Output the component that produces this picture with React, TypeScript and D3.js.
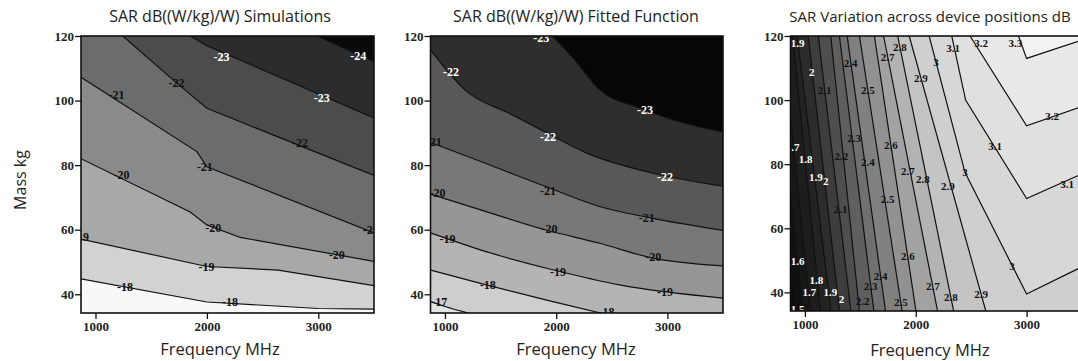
import * as d3 from "d3";
import { useEffect, useRef } from "react";

const W = 1078, H = 361;
const F0 = 870, F1 = 3500, M0 = 34.2, M1 = 120;

const massTicks = [40, 60, 80, 100, 120];
const freqTicks = [1000, 2000, 3000];

// panel 1: simulations, contour lines as [MHz, kg]
const simLevels = [-18, -19, -20, -21, -22, -23, -24];
const simLines = [
  [[870, 44.8], [2000, 37.6], [3000, 35.6], [3500, 35.4]],
  [[870, 57.1], [2000, 48.6], [2640, 47.5], [3500, 42.7]],
  [[870, 82], [1850, 65.5], [2000, 61.5], [2300, 57.6], [3500, 50.2]],
  [[870, 107.2], [1910, 84.2], [2000, 79.5], [3500, 59]],
  [[1245, 120], [1730, 105.4], [2000, 97.6], [3500, 76.8]],
  [[1850, 120], [2000, 117], [3500, 94.6]],
  [[2990, 120], [3500, 112]],
];
const simLabels = [
  [1264, 42.4, -18], [2207, 37.7, -18],
  [870, 57.9, -19], [1997, 48.6, -19],
  [1234, 77, -20], [2057, 60.5, -20], [3165, 52.2, -20],
  [1189, 101.7, -21], [1982, 79.5, -21], [3470, 60, -21],
  [1728, 105.4, -22], [2836, 86.8, -22],
  [2132, 113.6, -23], [3031, 101, -23],
  [3359, 114, -24],
];

// panel 2: fitted function
const fitLevels = [-17, -18, -19, -20, -21, -22, -23];
const fitLines = [
  [[870, 37.8], [1000, 36.2], [1210, 34.2]],
  [[870, 47.5], [1370, 42.9], [1970, 37.7], [2400, 34.2]],
  [[870, 59], [1370, 53.2], [1970, 47.6], [2570, 42.9], [3500, 38.8]],
  [[870, 71], [1370, 65.6], [1910, 59.9], [2390, 55.8], [2870, 51.2], [3500, 48.8]],
  [[870, 87], [1370, 80.5], [1910, 73.3], [2390, 67.2], [2870, 63.5], [3500, 59.8]],
  [[870, 115.7], [1190, 103], [1580, 96], [1900, 90.3], [2270, 83.8], [2870, 77.5], [3500, 73.5]],
  [[1968, 120], [2167, 112.6], [2393, 103.3], [2754, 97.7], [3115, 93.4], [3500, 90.3]],
];
const fitLabels = [
  [949, 37.7, -17],
  [1384, 42.9, -18], [2453, 34.6, -18],
  [1023, 57.3, -19], [2016, 47, -19], [2979, 40.8, -19],
  [933, 71.4, -20], [1941, 60.2, -20], [2874, 51.7, -20],
  [900, 87.3, -21], [1926, 72.2, -21], [2814, 63.6, -21],
  [1054, 109, -22], [1926, 88.8, -22], [2979, 76.4, -22],
  [1866, 119.3, -23], [2799, 97, -23],
];

// panel 3: variation across device positions
const varLevels = [1.5, 1.6, 1.7, 1.8, 1.9, 2, 2.1, 2.2, 2.3, 2.4, 2.5, 2.6, 2.7, 2.8, 2.9, 3, 3.1, 3.2, 3.3];
const varLines = [
  [[870, 49], [915, 34.2]],
  [[870, 71], [981, 34.2]],
  [[870, 94.7], [1051, 34.2]],
  [[889, 120], [1140, 34.2]],
  [[930, 120], [1235, 34.2]],
  [[1030, 120], [1312, 34.2]],
  [[1121, 120], [1415, 34.2]],
  [[1233, 120], [1492, 34.2]],
  [[1311, 120], [1622, 34.2]],
  [[1381, 120], [1727, 34.2]],
  [[1492, 120], [1877, 34.2]],
  [[1627, 120], [2002, 34.2]],
  [[1710, 120], [2197, 34.2]],
  [[1837, 120], [2342, 34.2]],
  [[1941, 120], [2632, 34.2]],
  [[2121, 120], [2445, 77.4], [3000, 39.5], [3500, 48]],
  [[2325, 120], [2450, 100], [3000, 69.3], [3500, 77]],
  [[2490, 120], [3000, 92], [3500, 98]],
  [[2927, 120], [3000, 113], [3500, 118.7]],
];
const varLabels = [
  [934, 117.8, 1.9], [1061, 108.8, 2], [1178, 103.2, 2.1], [1413, 111.6, 2.4], [1567, 103.2, 2.5],
  [1747, 113.5, 2.7], [1857, 116.6, 2.8], [2047, 106.9, 2.9], [2183, 111.9, 3], [2337, 116.3, 3.1],
  [2590, 117.8, 3.2], [2898, 117.8, 3.3],
  [890, 85.2, 1.7], [1006, 81.5, 1.8], [1100, 75.9, 1.9], [1187, 74.7, 2], [1323, 66, 2.1],
  [1330, 82.5, 2.2], [1445, 88, 2.3], [1567, 80.6, 2.4], [1747, 69.1, 2.5], [1775, 86.1, 2.6],
  [1929, 77.8, 2.7], [2064, 75.3, 2.8], [2290, 73.1, 2.9], [2445, 77.4, 3], [2717, 85.5, 3.1],
  [3230, 94.9, 3.2], [3366, 73.7, 3.1], [2868, 48.3, 3],
  [1929, 51.3, 2.6], [934, 49.8, 1.6],
  [1103, 43.7, 1.8], [1040, 40.2, 1.7], [1230, 40.2, 1.9], [1330, 37.8, 2], [1395, 33.5, 2.1],
  [1520, 37.4, 2.2], [1594, 42, 2.3], [1684, 45.1, 2.4], [1865, 37, 2.5], [2155, 42, 2.7],
  [2318, 38.6, 2.8], [2590, 39.5, 2.9], [934, 34.8, 1.5],
];

// which side of the frame a point sits on: 0 bottom, 1 right, 2 top, 3 left
function edgeOf([f, m]) {
  const d = [
    Math.abs(m - M0) / (M1 - M0),
    Math.abs(F1 - f) / (F1 - F0),
    Math.abs(M1 - m) / (M1 - M0),
    Math.abs(f - F0) / (F1 - F0),
  ];
  return d.indexOf(Math.min(...d));
}
function snap(p) {
  const e = edgeOf(p);
  if (e === 0) return [p[0], M0];
  if (e === 1) return [F1, p[1]];
  if (e === 2) return [p[0], M1];
  return [F0, p[1]];
}
function perim(p) {
  const e = edgeOf(p);
  if (e === 0) return (p[0] - F0) / (F1 - F0);
  if (e === 1) return 1 + (p[1] - M0) / (M1 - M0);
  if (e === 2) return 2 + (F1 - p[0]) / (F1 - F0);
  return 3 + (M1 - p[1]) / (M1 - M0);
}
const corners = [[F0, M0], [F1, M0], [F1, M1], [F0, M1]];

function styleAxis(g) {
  g.select(".domain").remove();
  g.selectAll("line").attr("stroke", "#111").attr("stroke-width", 1.3);
  g.selectAll("text").attr("font-family", "Liberation Serif").attr("font-size", 13).attr("font-weight", "bold").attr("fill", "#222");
}

function YAxis({ y, x0 }) {
  const ref = useRef(null);
  useEffect(() => {
    const g = d3.select(ref.current);
    g.selectAll("*").remove();
    g.call(d3.axisLeft(y).tickValues(massTicks).tickFormat(d3.format("d")).tickSize(6).tickPadding(1));
    styleAxis(g);
  });
  return <g ref={ref} transform={`translate(${x0},0)`} />;
}
function XAxis({ x, y1 }) {
  const ref = useRef(null);
  useEffect(() => {
    const g = d3.select(ref.current);
    g.selectAll("*").remove();
    g.call(d3.axisBottom(x).tickValues(freqTicks).tickFormat(d3.format("d")).tickSize(6).tickPadding(3));
    styleAxis(g);
  });
  return <g ref={ref} transform={`translate(0,${y1})`} />;
}

function Panel({ id, x0, x1, y0, y1, title, titleX, titleSize, levels, lines, labels, grays, curve, whiteLabel, labelSize, xLabelY }) {
  const x = d3.scaleLinear().domain([F0, F1]).range([x0, x1]);
  const y = d3.scaleLinear().domain([M0, M1]).range([y1, y0]);
  const shade = d3.scaleLinear().domain(d3.range(grays.length).map((i) => (i * levels.length) / (grays.length - 1))).range(grays);
  const gray = (i) => { const v = Math.round(shade(i)); return `rgb(${v},${v},${v})`; };
  const line = d3.line().x((d) => x(d[0])).y((d) => y(d[1])).curve(curve);
  const pts = lines.map((l) => l.map((p, i) => (i === 0 || i === l.length - 1 ? snap(p) : p)));
  const regions = pts.map((l) => {
    const s0 = perim(l[l.length - 1]);
    let s1 = perim(l[0]);
    if (s1 <= s0) s1 += 4;
    let extra = "";
    for (let k = Math.floor(s0) + 1; k < s1; k++) {
      const c = corners[k % 4];
      extra += `L${x(c[0])},${y(c[1])}`;
    }
    return line(l) + extra + "Z";
  });
  return (
    <g>
      <defs>
        <clipPath id={id}>
          <rect x={x0} y={y0} width={x1 - x0} height={y1 - y0} />
        </clipPath>
      </defs>
      <g clipPath={`url(#${id})`}>
        <rect x={x0} y={y0} width={x1 - x0} height={y1 - y0} fill={gray(0)} />
        {regions.map((d, i) => (
          <path key={"r" + i} d={d} fill={gray(i + 1)} />
        ))}
        {pts.map((l, i) => (
          <path key={"l" + i} d={line(l)} fill="none" stroke="#111" strokeWidth={1.2} />
        ))}
        {labels.map(([f, m, v], i) => (
          <text key={"t" + i} x={x(f)} y={y(m)} dy="0.35em" textAnchor="middle"
            fontFamily="Liberation Serif" fontSize={labelSize} fontWeight="bold"
            fill={whiteLabel(v) ? "#fff" : "#111"}>
            {String(v)}
          </text>
        ))}
      </g>
      <rect x={x0} y={y0} width={x1 - x0} height={y1 - y0} fill="none" stroke="#111" strokeWidth={1.6} />
      <YAxis y={y} x0={x0} />
      <XAxis x={x} y1={y1} />
      <text x={titleX} y={22} textAnchor="middle" fontFamily="Open Sans" fontSize={titleSize} fill="#222">{title}</text>
      <text x={titleX} y={xLabelY} textAnchor="middle" fontFamily="Open Sans" fontSize={16.5} fill="#222">Frequency MHz</text>
    </g>
  );
}

export default function App() {
  return (
    <svg width={W} height={H} style={{ position: "absolute", left: 0, top: 0, background: "#fff" }}>
      <rect width={W} height={H} fill="#fff" />
      <text transform="translate(26,180) rotate(-90)" textAnchor="middle" fontFamily="Open Sans" fontSize={16} fill="#222">Mass kg</text>
      <Panel id="c1" x0={81} x1={374} y0={36} y1={313} title="SAR dB((W/kg)/W) Simulations" titleX={220} titleSize={16}
        levels={simLevels} lines={simLines} labels={simLabels}
        grays={[248, 210, 168, 138, 108, 76, 44, 10]} curve={d3.curveLinear}
        whiteLabel={(v) => v <= -23} labelSize={12} xLabelY={355} />
      <Panel id="c2" x0={430.5} x1={723} y0={36} y1={313} title="SAR dB((W/kg)/W) Fitted Function" titleX={576} titleSize={16}
        levels={fitLevels} lines={fitLines} labels={fitLabels}
        grays={[228, 206, 180, 150, 120, 88, 46, 6]} curve={d3.curveMonotoneX}
        whiteLabel={(v) => v <= -22} labelSize={12} xLabelY={355} />
      <Panel id="c3" x0={790.5} x1={1082} y0={36} y1={311} title="SAR Variation across device positions dB" titleX={930} titleSize={15}
        levels={varLevels} lines={varLines} labels={varLabels}
        grays={[10, 40, 120, 200, 242]} curve={d3.curveLinear}
        whiteLabel={(v) => v < 2.05} labelSize={11} xLabelY={356} />
    </svg>
  );
}
